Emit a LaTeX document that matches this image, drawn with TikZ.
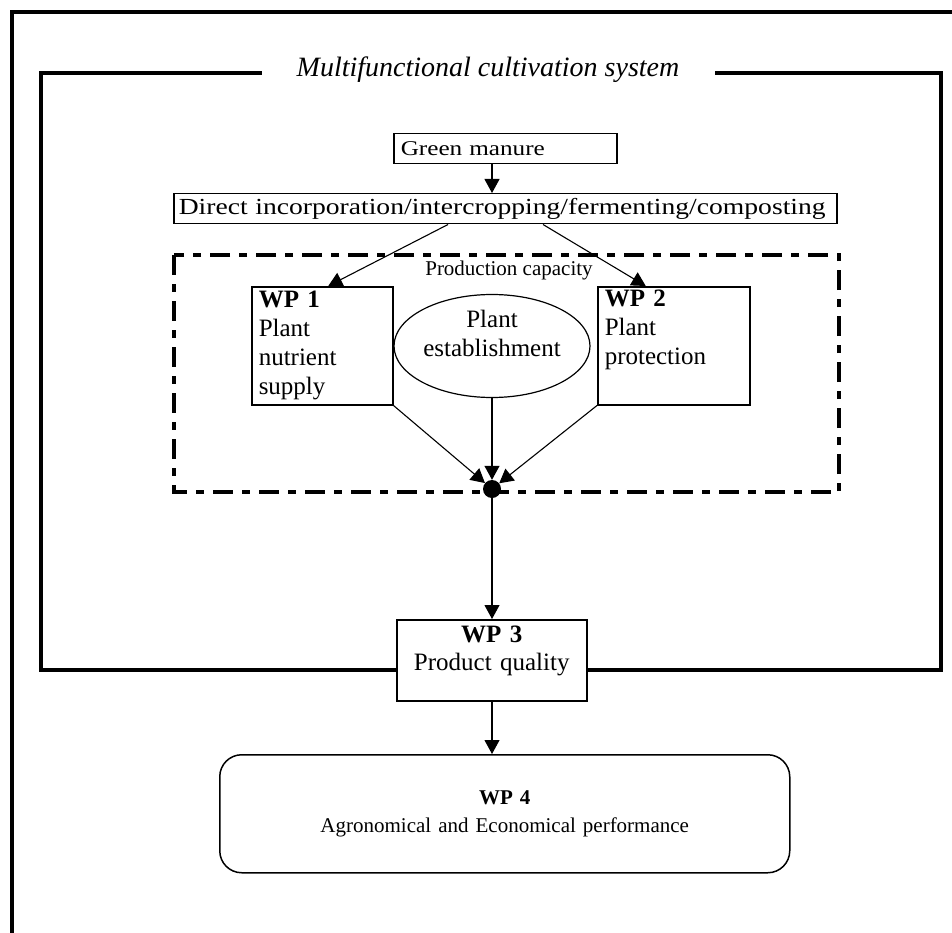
\documentclass[tikz,border=0pt]{standalone}
\usepackage{fontspec}
\setmainfont{Liberation Serif}
\newfontfamily\widefont[FakeStretch=1.2]{Liberation Serif}
\usetikzlibrary{arrows.meta,positioning,shapes.geometric}

\begin{document}
\begin{tikzpicture}[
  x=1pt, y=-1pt,
  every node/.style={font=\fontsize{21}{28}\selectfont},
  big/.style={font=\fontsize{25}{29}\selectfont},
  frame/.style={line width=4pt},
  box/.style={draw, line width=1.5pt, inner xsep=7pt, inner ysep=1pt, align=left, anchor=north west},
  wpbox/.style={box, big, minimum height=118pt},
  arrow/.style={-{Triangle[length=14pt,width=15pt]}, line width=1.1pt}
]
\useasboundingbox (0,0) rectangle (952,933);
% outer frame, runs off the page on the right and at the bottom
\draw[frame] (952,12) -- (12,12) -- (12,933);
\node[inner xsep=35pt, font=\fontsize{28}{32}\selectfont\itshape] (title) at (488,70) {Multifunctional cultivation system};
\coordinate (tl) at (41,73);
\draw[frame] (title.west |- tl) -- (tl) -- (41,670) -- (941,670) -- (941,73) -- (title.east |- tl);
\node[box, minimum height=30pt, text width=209pt, font=\fontsize{21}{28}\widefont] (manure) at (393,133) {Green manure};
\node[box, minimum height=30pt, text width=653pt, inner xsep=5pt, inner ysep=0pt, font=\fontsize{23}{28}\widefont] (direct) at (173,193) {Direct incorporation/intercropping/fermenting/composting};
\draw[line width=3.5pt, dash pattern=on 20pt off 9pt on 8pt off 9pt] (174,255) rectangle (839,492);
\node (capacity) at (509,270) {Production capacity};
\node[wpbox, text width=127pt] (wp1) at (251,286) {\textbf{WP 1}\\Plant\\nutrient\\supply};
\node[wpbox, text width=138pt] (wp2) at (597,286) {\textbf{WP 2}\\Plant\\protection\\\strut};
\node[draw, ellipse, big, line width=1.2pt, minimum width=196pt, minimum height=103pt, inner sep=0pt, align=center, text depth=26pt] (estab) at (492,346) {Plant\\establishment};
\node[circle, fill, minimum size=18pt, inner sep=0pt] (dot) at (492,489) {};
\node[box, fill=white, text width=176pt, align=center, text height=22pt, text depth=57pt, font=\fontsize{25}{28}\selectfont] (wp3) at (396,619) {\textbf{WP 3}\\Product quality};
\node[box, rounded corners=22pt, minimum height=118pt, text width=556pt, align=center] (wp4) at (219,754) {\textbf{WP 4}\\Agronomical and Economical performance};
\draw[arrow] (manure.south -| dot) -- (direct.north -| dot);
\draw[arrow] (direct.south -| 448,0) -- ([xshift=6pt]wp1.north);
\draw[arrow] (direct.south -| 543,0) -- ([xshift=-28pt]wp2.north);
\draw[arrow] (wp1.south east) -- (dot);
\draw[arrow] (estab.south) -- (dot);
\draw[arrow] (wp2.south west) -- (dot);
\draw[arrow] (dot) -- (wp3.north -| dot);
\draw[arrow] (wp3.south -| dot) -- (wp4.north -| dot);
\end{tikzpicture}
\end{document}
